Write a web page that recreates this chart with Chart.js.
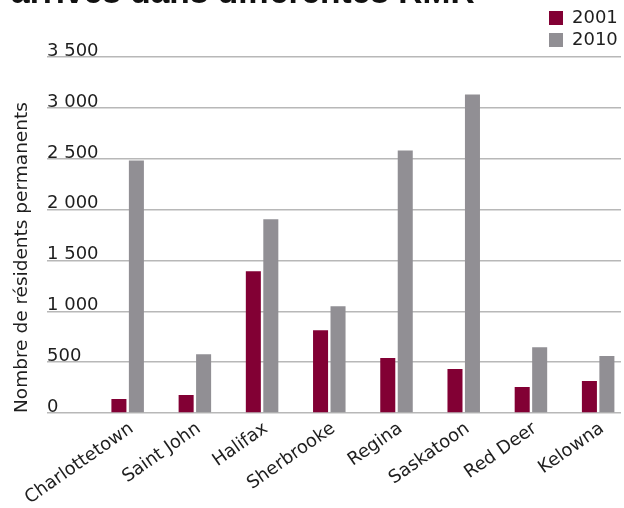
<!DOCTYPE html>
<html>
<head>
<meta charset="utf-8">
<script src="https://cdn.jsdelivr.net/npm/chart.js@4"></script>
<style>
  html, body { margin: 0; padding: 0; background: #fff; }
  #frame { position: relative; width: 624px; height: 508px; overflow: hidden; }
  #chart { position: absolute; left: 0; top: -32px; }
</style>
</head>
<body>
<div id="frame"><canvas id="chart" width="624" height="540"></canvas></div>
<script>
const cities = ['Charlottetown', 'Saint John', 'Halifax', 'Sherbrooke', 'Regina', 'Saskatoon', 'Red Deer', 'Kelowna'];
const years = ['2001', '2010'];
const values2001 = [137, 177, 1395, 815, 540, 432, 255, 314];
const values2010 = [2485, 577, 1906, 1051, 2583, 3133, 648, 560];
const yTicks = [0, 500, 1000, 1500, 2000, 2500, 3000, 3500];

const textColor = '#1e1e1e';
const gridColor = '#b8b8b8';
const font = 'DejaVu Sans';

function fmt(v) {
  return String(v).replace(/\B(?=(\d{3})+(?!\d))/g, ' ');
}

// legend sits above the plot on the right, outside the normal layout
const legendSpot = {
  id: 'legendSpot',
  afterLayout(chart) {
    const lg = chart.legend;
    lg.left = 545;
    lg.top = 37;
    lg.right = 624;
    lg.bottom = 100;
  }
};

const ctx = document.getElementById('chart').getContext('2d');
new Chart(ctx, {
  type: 'bar',
  data: {
    datasets: [{
      label: years[0],
      data: values2001.map((v, i) => ({ x: i, y: v })),
      backgroundColor: '#820034',
      borderWidth: 0
    }, {
      label: years[1],
      data: values2010.map((v, i) => ({ x: i, y: v })),
      backgroundColor: '#918f94',
      borderWidth: 0
    }]
  },
  options: {
    responsive: false,
    animation: false,
    devicePixelRatio: 1,
    categoryPercentage: 0.52,
    barPercentage: 0.86,
    layout: {
      padding: { left: 11, right: 3, top: 0, bottom: 0 }
    },
    plugins: {
      tooltip: { enabled: false },
      title: {
        display: true,
        text: 'arrivés dans différentes RMR',
        align: 'start',
        color: '#111',
        font: { family: 'Liberation Sans', size: 33.5, weight: 'bold', lineHeight: 1.2 },
        padding: { top: 6, bottom: 43 }
      },
      legend: {
        position: 'chartArea',
        align: 'start',
        labels: {
          color: textColor,
          boxWidth: 14,
          boxHeight: 14,
          padding: 4,
          font: { family: font, size: 18 }
        }
      }
    },
    scales: {
      x: {
        type: 'linear',
        min: -1.2,
        max: 7.34,
        bounds: 'data',
        offset: false,
        afterBuildTicks: (scale) => { scale.ticks = cities.map((c, i) => ({ value: i })); },
        grid: { display: false },
        border: { display: false },
        ticks: {
          autoSkip: false,
          maxRotation: 35,
          minRotation: 35,
          padding: -3,
          labelOffset: 4,
          color: textColor,
          font: { family: font, size: 18 },
          callback: (v) => cities[v] || ''
        },
        afterFit: (scale) => { scale.height = 95; }
      },
      y: {
        min: 0,
        max: 3500,
        z: 1,
        afterBuildTicks: (scale) => { scale.ticks = yTicks.map(v => ({ value: v })); },
        grid: { color: gridColor, lineWidth: 1.5, drawTicks: false },
        border: { display: false },
        ticks: {
          mirror: true,
          padding: 0,
          labelOffset: -6,
          color: textColor,
          font: { family: font, size: 18 },
          callback: (v) => fmt(v)
        },
        title: {
          display: true,
          text: 'Nombre de résidents permanents',
          align: 'start',
          color: textColor,
          padding: 0,
          font: { family: font, size: 18.5, lineHeight: 1.2 }
        },
        afterFit: (scale) => { scale.width = 36; }
      }
    }
  },
  plugins: [legendSpot]
});
</script>
</body>
</html>
